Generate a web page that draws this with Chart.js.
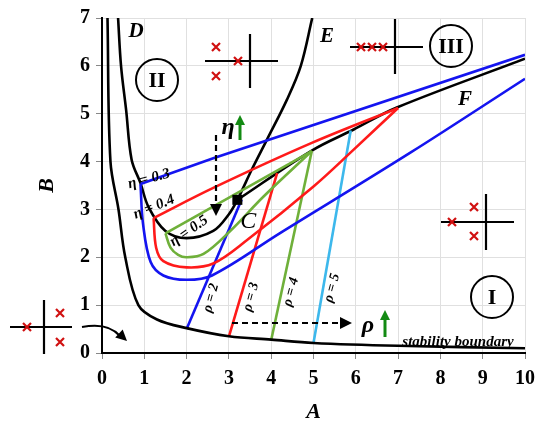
<!DOCTYPE html>
<html><head><meta charset="utf-8">
<script src="https://cdn.jsdelivr.net/npm/chart.js@4.4.1/dist/chart.umd.min.js"></script>
<style>html,body{margin:0;padding:0;background:#fff}#wrap{width:550px;height:430px}</style>
</head><body><div id="wrap"><canvas id="c" width="550" height="430"></canvas></div>
<script>
// ---- data ----
const xTicks = [0,1,2,3,4,5,6,7,8,9,10];
const yTicks = [0,1,2,3,4,5,6,7];
const stabA = [0.13,0.2,0.39,0.55,0.86,1.3,2,3,4,5,7,10];
const stabB = [7,4,3,2,1,0.7,0.52,0.35,0.28,0.21,0.15,0.1];
const deA = [0.38,0.45,0.57,0.7,0.91,1.1,1.5,2.0,2.63,3.0,3.2,3.55,3.9,4.37,4.7,4.97];
const deB = [7,6,5.08,4.04,3.55,3.05,2.55,2.4,2.55,2.9,3.2,3.85,4.46,5.29,6.0,7];
const fA = [3.2,4.96,5.95,6.97,10];
const fB = [3.2,4.23,4.67,5.13,6.15];
const blueUpA = [0.91,2.63,10];
const blueUpB = [3.53,4.07,6.23];
const blueLoA = [0.91,0.97,1.15,1.45,2.0,2.6,4.2,7.28,10];
const blueLoB = [3.53,2.7,1.9,1.62,1.53,1.62,2.5,4.18,5.73];
const redUpA = [1.22,2.63,4.96,7];
const redUpB = [2.82,3.45,4.39,5.12];
const redLoA = [1.22,1.28,1.45,2.0,2.63,3.43,5.0,5.95,7];
const redLoB = [2.82,2.2,1.92,1.79,1.87,2.36,3.48,4.25,5.12];
const greenUpA = [1.5,4.96];
const greenUpB = [2.5,4.22];
const greenLoA = [1.5,1.62,1.8,2.0,2.4,3.03,3.82,4.96];
const greenLoB = [2.5,2.2,2.05,2.0,2.07,2.55,3.27,4.22];
const rho2A = [2.0,3.3], rho2B = [0.5,3.2];
const rho3A = [3.0,4.14], rho3B = [0.34,3.76];
const rho4A = [4.0,4.96], rho4B = [0.27,4.22];
const rho5A = [5.0,5.88], rho5B = [0.21,4.65];
const pointC = [3.2,3.2];

const pts = (a,b) => a.map((v,i)=>({x:v,y:b[i]}));
const BLUE='#1414f0', RED='#ff1a1a', GREEN='#6fb03a', CYAN='#3db8ec', BLACK='#000';
function ds(a,b,color,curve){return {data:pts(a,b),borderColor:color,borderWidth:2.6,pointRadius:0,showLine:true,fill:false,tension:curve?0.35:0};}

const F = 'Liberation Serif, "Times New Roman", serif';

const deco = {
  id:'deco',
  afterDatasetsDraw(chart){
    const ctx=chart.ctx, xs=chart.scales.x, ys=chart.scales.y;
    const X=v=>xs.getPixelForValue(v), Y=v=>ys.getPixelForValue(v);
    ctx.save();
    ctx.fillStyle='#000';
    ctx.fillRect(X(pointC[0])-5,Y(pointC[1])-5,10,10);
    ctx.font='italic 24px '+F; ctx.textAlign='left'; ctx.textBaseline='middle';
    ctx.fillText('C',X(pointC[0])+3,Y(pointC[1])+22);
    ctx.font='bold italic 21px '+F; ctx.textAlign='center';
    ctx.fillText('D',136,32); ctx.fillText('E',327,37); ctx.fillText('F',465,100);
    function circ(cx,cy,t){ctx.beginPath();ctx.lineWidth=2;ctx.strokeStyle='#000';ctx.arc(cx,cy,21,0,Math.PI*2);ctx.stroke();
      ctx.font='bold 22px '+F;ctx.fillStyle='#000';ctx.textAlign='center';ctx.textBaseline='middle';ctx.fillText(t,cx,cy+1);}
    circ(157,80,'II'); circ(451,46,'III'); circ(492,297,'I');
    function axes(x1,x2,y,vx,v1,v2){ctx.strokeStyle='#000';ctx.lineWidth=2.2;ctx.beginPath();ctx.moveTo(x1,y);ctx.lineTo(x2,y);ctx.moveTo(vx,v1);ctx.lineTo(vx,v2);ctx.stroke();}
    function cross(x,y){ctx.strokeStyle='#d01010';ctx.lineWidth=2.2;ctx.beginPath();ctx.moveTo(x-4,y-4);ctx.lineTo(x+4,y+4);ctx.moveTo(x+4,y-4);ctx.lineTo(x-4,y+4);ctx.stroke();}
    axes(10,72,327,44,300,354); cross(27,327); cross(60,313); cross(60,342);
    axes(205,278,61,250,34,88); cross(216,47); cross(216,76); cross(238,61);
    axes(350,423,47,395,19,74); cross(361,47); cross(372,47); cross(383,47);
    axes(441,514,222,486,194,250); cross(452,222); cross(474,207); cross(474,236);
    ctx.strokeStyle='#000';ctx.lineWidth=2;ctx.beginPath();ctx.moveTo(82,327);ctx.quadraticCurveTo(108,322,120,336);ctx.stroke();
    function head(x,y,ang,s){ctx.save();ctx.translate(x,y);ctx.rotate(ang);ctx.beginPath();ctx.moveTo(0,0);ctx.lineTo(-s,-s*0.5);ctx.lineTo(-s,s*0.5);ctx.closePath();ctx.fillStyle=ctx.strokeStyle;ctx.fill();ctx.restore();}
    head(127,341,0.75,11);
    ctx.setLineDash([6,4]);ctx.lineWidth=2.2;ctx.beginPath();ctx.moveTo(216,135);ctx.lineTo(216,205);ctx.stroke();
    ctx.beginPath();ctx.moveTo(232,323);ctx.lineTo(340,323);ctx.stroke();ctx.setLineDash([]);
    head(216,216,Math.PI/2,12); head(352,323,0,12);
    ctx.fillStyle='#000';ctx.font='bold italic 24px '+F;ctx.textAlign='center';
    ctx.fillText('η',228,128); ctx.fillText('ρ',368,326);
    ctx.strokeStyle='#138a13';ctx.lineWidth=3;ctx.beginPath();ctx.moveTo(240,140);ctx.lineTo(240,124);ctx.stroke();head(240,115,-Math.PI/2,10);
    ctx.beginPath();ctx.moveTo(385,337);ctx.lineTo(385,320);ctx.stroke();head(385,310,-Math.PI/2,10);
    function rot(t,x,y,a,size){ctx.save();ctx.translate(x,y);ctx.rotate(a*Math.PI/180);ctx.fillStyle='#000';ctx.font='bold italic '+size+'px '+F;ctx.textAlign='center';ctx.textBaseline='middle';ctx.fillText(t,0,0);ctx.restore();}
    rot('η = 0.3',149,179,-15,15); rot('η = 0.4',154,207,-22,15); rot('η = 0.5',189,231,-35,15);
    rot('ρ = 2',211,298,-75,14); rot('ρ = 3',251,297,-75,14); rot('ρ = 4',291,292,-75,14); rot('ρ = 5',332,288,-75,14);
    ctx.fillStyle='#000';ctx.font='bold italic 15px '+F;ctx.textAlign='center';ctx.textBaseline='middle';
    ctx.fillText('stability boundary',458,342);
    ctx.restore();
  }
};

new Chart(document.getElementById('c'),{
  type:'scatter',
  data:{datasets:[
    ds(stabA,stabB,BLACK,true),
    ds(blueUpA,blueUpB,BLUE,false), ds(blueLoA,blueLoB,BLUE,true),
    ds(redUpA,redUpB,RED,true), ds(redLoA,redLoB,RED,true),
    ds(greenUpA,greenUpB,GREEN,false), ds(greenLoA,greenLoB,GREEN,true),
    ds(rho2A,rho2B,BLUE,false), ds(rho3A,rho3B,RED,false), ds(rho4A,rho4B,GREEN,false), ds(rho5A,rho5B,CYAN,false),
    ds(deA,deB,BLACK,true), ds(fA,fB,BLACK,true)
  ]},
  options:{
    responsive:false, animation:false,
    layout:{padding:{top:17,right:25,left:30,bottom:0}},
    plugins:{legend:{display:false},tooltip:{enabled:false}},
    scales:{
      x:{type:'linear',min:0,max:10,afterFit:s=>{s.height=77;},
        afterBuildTicks:s=>{s.ticks=xTicks.map(v=>({value:v}));},
        grid:{color:'#e0e0e0',drawTicks:true,tickLength:6,tickColor:'#888'},
        border:{color:'#000',width:2},
        ticks:{color:'#000',font:{family:F,size:20,weight:'bold'},padding:8,maxRotation:0},
        title:{display:true,text:'A',color:'#000',font:{family:F,size:22,weight:'bold',style:'italic'},padding:{top:0}}},
      y:{type:'linear',min:0,max:7,afterFit:s=>{s.width=72;},
        afterBuildTicks:s=>{s.ticks=yTicks.map(v=>({value:v}));},
        grid:{color:'#e0e0e0',tickLength:6,tickColor:'#888'},
        border:{color:'#000',width:2},
        ticks:{color:'#000',font:{family:F,size:20,weight:'bold'},padding:6},
        title:{display:true,text:'B',color:'#000',font:{family:F,size:22,weight:'bold',style:'italic'},padding:{bottom:0}}}
    }
  },
  plugins:[deco]
});
</script></body></html>
